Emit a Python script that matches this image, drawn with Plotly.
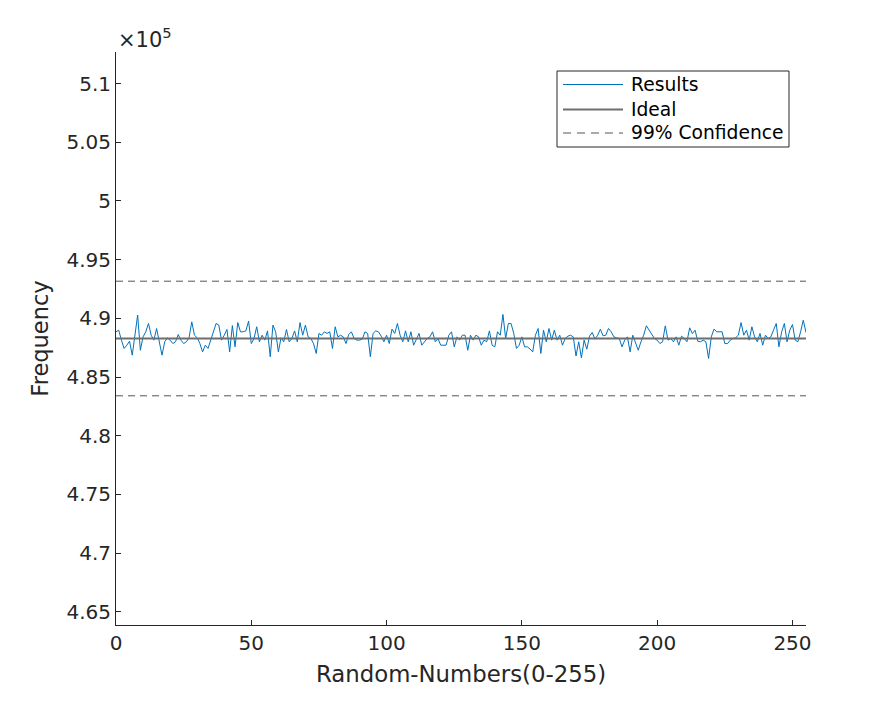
import plotly.graph_objects as go

# ---------------- data ----------------
x_values = list(range(256))
results = [
    488851, 488991, 488141, 487431, 487711, 488051, 486861, 488561, 490281, 487281,
    488421, 488851, 489561, 488561, 488141, 489131, 488001, 486861, 488001, 488341,
    488141, 487851, 488001, 488621, 488141, 487851, 488001, 488341, 489701, 488561,
    488341, 487851, 487141, 487711, 487431, 488141, 488991, 489561, 489421, 488141,
    488561, 489051, 487141, 489381, 487571, 489641, 488851, 488851, 488931, 489761,
    487851, 488281, 489281, 488001, 488561, 488141, 488931, 486721, 489421, 488851,
    487141, 488341, 488001, 489051, 488001, 488281, 488931, 488001, 489641, 488561,
    489421, 488421, 488281, 487851, 487001, 488711, 488561, 488851, 488711, 488851,
    487431, 489281, 488421, 488561, 488421, 487851, 488621, 488851, 488281, 488141,
    488141, 488221, 488851, 488711, 486721, 488711, 488931, 488851, 488481, 488001,
    488561, 487851, 489081, 488711, 489561, 488561, 488001, 488931, 488001, 488851,
    487711, 488281, 488711, 487711, 488001, 488281, 488421, 488851, 488001, 488281,
    487711, 487711, 487711, 488561, 488851, 487571, 488421, 488141, 488561, 488561,
    487281, 488561, 488141, 488561, 488421, 487711, 488141, 488001, 488931, 487711,
    487571, 488851, 488561, 490331, 488281, 489561, 489561, 488711, 487431, 487711,
    488421, 487571, 487571, 487381, 487141, 488561, 489131, 487001, 488991, 488001,
    489131, 488141, 488991, 488141, 488561, 487711, 488281, 488481, 488561, 488421,
    486791, 488001, 486631, 488141, 487371, 488481, 488791, 488221, 488561, 489081,
    488511, 488561, 489131, 488851, 488421, 488341, 488281, 487571, 488141, 488421,
    487141, 488561, 488001, 487281, 488001, 488561, 489361, 488991, 488711, 488281,
    488141, 487851, 488001, 489361, 488141, 488281, 488001, 488421, 487711, 488481,
    488281, 488001, 489191, 488700, 488991, 488051, 488001, 488141, 488001, 486581,
    488421, 489081, 488851, 488851, 488851, 487851, 487851, 488141, 488281, 488341,
    488561, 489641, 488561, 488991, 488141, 489281, 488421, 488001, 488711, 487711,
    488561, 488281, 488421, 488991, 489561, 487571, 488851, 489561, 488001, 488991,
    489471, 488141, 488001, 488851, 489841, 488791,
]
ideal_value = 488281.25
conf_upper = 493164
conf_lower = 483398
line_x = [0, 255]

y_tick_vals = [465000, 470000, 475000, 480000, 485000, 490000, 495000, 500000, 505000, 510000]
y_tick_text = ["4.65", "4.7", "4.75", "4.8", "4.85", "4.9", "4.95", "5", "5.05", "5.1"]
x_tick_vals = [0, 50, 100, 150, 200, 250]
y_range = [463867, 512695]
x_range = [0, 255]

legend_labels = ["Results", "Ideal", "99% Confidence"]

# ---------------- style ----------------
FONT = "DejaVu Sans"
TXT = "#262626"
BLUE = "#0072BD"
IDEAL_GRAY = "#6e6e6e"
DASH_GRAY = "#555555"
DASH = "7px,5px"

# page body has an 8px default margin, so the figure is offset by 8px
OFF = 8
W, H = 891 - 2 * OFF, 703 - 2 * OFF
# target plot area in screen pixels: x 116..806, y 52..625
L, T = 116 - OFF, 52 - OFF
R = W - (806 - OFF)
B = H - (625 - OFF)
pw, ph = W - L - R, H - T - B


def px_x(p):
    return (p - OFF - L) / pw


def px_y(p):
    return (H - B - (p - OFF)) / ph


fig = go.Figure()
fig.add_trace(go.Scatter(x=x_values, y=results, mode="lines",
                         line=dict(color=BLUE, width=1), showlegend=False, hoverinfo="skip"))
fig.add_trace(go.Scatter(x=line_x, y=[ideal_value, ideal_value], mode="lines",
                         line=dict(color=IDEAL_GRAY, width=2), showlegend=False, hoverinfo="skip"))
fig.add_trace(go.Scatter(x=line_x, y=[conf_upper, conf_upper], mode="lines",
                         line=dict(color=DASH_GRAY, width=1, dash=DASH), showlegend=False, hoverinfo="skip"))
fig.add_trace(go.Scatter(x=line_x, y=[conf_lower, conf_lower], mode="lines",
                         line=dict(color=DASH_GRAY, width=1, dash=DASH), showlegend=False, hoverinfo="skip"))

# ---------------- custom legend (MATLAB style) ----------------
shapes = [dict(type="rect", xref="paper", yref="paper",
               x0=px_x(557), x1=px_x(789), y0=px_y(147), y1=px_y(71),
               line=dict(color=TXT, width=1), fillcolor="white", layer="above")]
leg_styles = [dict(color=BLUE, width=1), dict(color=IDEAL_GRAY, width=2),
              dict(color=DASH_GRAY, width=1, dash="8px,6px")]
leg_y = [84.5, 109.5, 133]
annotations = []
for lab, st, yy in zip(legend_labels, leg_styles, leg_y):
    shapes.append(dict(type="line", xref="paper", yref="paper",
                       x0=px_x(563), x1=px_x(623), y0=px_y(yy), y1=px_y(yy),
                       line=st, layer="above"))
    annotations.append(dict(text=lab, xref="paper", yref="paper",
                            x=px_x(629), y=px_y(yy), xanchor="left", yanchor="middle",
                            showarrow=False, font=dict(family=FONT, size=18.7, color="black")))

annotations.append(dict(text="×10<sup>5</sup>", xref="paper", yref="paper",
                        x=0, y=1, xanchor="left", yanchor="bottom", yshift=-2,
                        showarrow=False, font=dict(family=FONT, size=21, color=TXT)))

fig.update_layout(
    width=W, height=H,
    margin=dict(l=L, r=R, t=T, b=B, autoexpand=False),
    paper_bgcolor="white", plot_bgcolor="white",
    font=dict(family=FONT, size=20, color=TXT),
    shapes=shapes, annotations=annotations,
    hovermode=False,
)
fig.update_xaxes(range=x_range, tickvals=x_tick_vals, ticks="inside", ticklen=5,
                 tickcolor=TXT, showline=True, linecolor=TXT, linewidth=1,
                 showgrid=False, zeroline=False, mirror=False,
                 tickfont=dict(family=FONT, size=20, color=TXT),
                 title=dict(text="Random-Numbers(0-255)", standoff=12,
                            font=dict(family=FONT, size=22.8, color=TXT)))
fig.update_yaxes(range=y_range, tickvals=y_tick_vals, ticktext=y_tick_text,
                 ticks="inside", ticklen=5, tickcolor=TXT, showline=True,
                 linecolor=TXT, linewidth=1, showgrid=False, zeroline=False, mirror=False,
                 tickfont=dict(family=FONT, size=20, color=TXT),
                 title=dict(text="Frequency", standoff=11,
                            font=dict(family=FONT, size=22.5, color=TXT)))

fig.write_html("out.html")
